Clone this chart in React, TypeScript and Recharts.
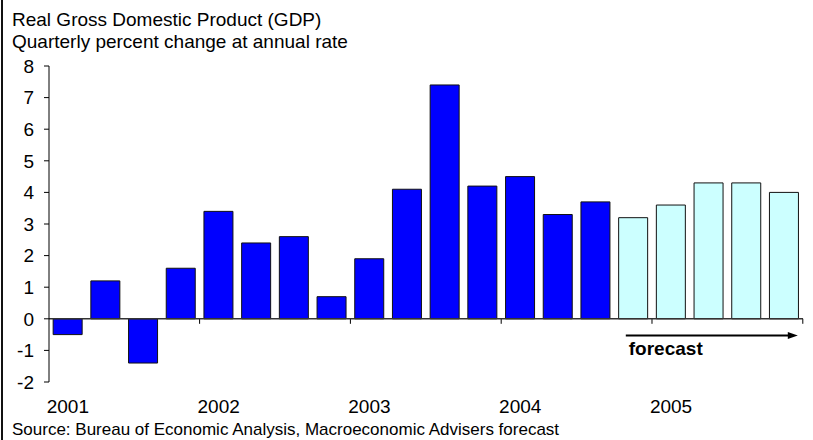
import React from 'react';
import { BarChart, Bar, Cell, XAxis, YAxis, ReferenceLine, Rectangle } from 'recharts';

const quarters = [
  '2001 Q1', '2001 Q2', '2001 Q3', '2001 Q4',
  '2002 Q1', '2002 Q2', '2002 Q3', '2002 Q4',
  '2003 Q1', '2003 Q2', '2003 Q3', '2003 Q4',
  '2004 Q1', '2004 Q2', '2004 Q3', '2004 Q4',
  '2005 Q1', '2005 Q2', '2005 Q3', '2005 Q4',
];
// published quarters, then the forecast quarters
const actual = [-0.5, 1.2, -1.4, 1.6, 3.4, 2.4, 2.6, 0.7, 1.9, 4.1, 7.4, 4.2, 4.5, 3.3, 3.7];
const forecast = [3.2, 3.6, 4.3, 4.3, 4.0];
const yTicks = [-2, -1, 0, 1, 2, 3, 4, 5, 6, 7, 8];
const arrowLevel = -0.53;

const data = quarters.map((q, i) =>
  i < actual.length
    ? { q, gdp: actual[i], fc: false }
    : { q, gdp: forecast[i - actual.length], fc: true }
);

const FONT = '"Liberation Sans", Arial, sans-serif';
const W = 813;
const H = 440;
const MARGIN = { top: 66, right: 10, bottom: 28, left: 0 };
const Y_AXIS_W = 49;
const BAND = (W - MARGIN.right - MARGIN.left - Y_AXIS_W) / quarters.length;

// bar plus the year ticks on the zero line and the forecast arrow
const GdpBar = (props: any) => {
  const { x, y, width, height, index } = props;
  const value = data[index].gdp;
  const zero = Math.max(y, y + height);
  const pxPerUnit = Math.abs(height) / Math.abs(value);
  const bandStart = x + width / 2 - BAND / 2;
  const q = quarters[index];
  const extras: React.ReactNode[] = [];

  if (index > 0 && q.endsWith('Q1')) {
    extras.push(<line key="t" x1={bandStart} y1={zero} x2={bandStart} y2={zero + 5} stroke="#000" />);
  }
  if (index === quarters.length - 1) {
    const end = bandStart + BAND;
    extras.push(<line key="e" x1={end} y1={zero} x2={end} y2={zero + 5} stroke="#000" />);
  }
  if (index === actual.length) {
    const ay = zero - arrowLevel * pxPerUnit;
    const start = bandStart + 11.5;
    const tip = bandStart + forecast.length * BAND - 5;
    extras.push(
      <g key="a">
        <line x1={start} y1={ay} x2={tip - 8} y2={ay} stroke="#000" strokeWidth={2} />
        <polygon points={`${tip},${ay} ${tip - 10},${ay - 3.5} ${tip - 10},${ay + 3.5}`} fill="#000" />
        <text x={start + 3} y={ay + 19.5} fontSize={19} fontWeight="bold" fontFamily={FONT} fill="#000">
          forecast
        </text>
      </g>
    );
  }

  return (
    <g>
      <Rectangle x={x} y={y} width={width} height={height} fill={props.fill} stroke="#111" strokeWidth={1} />
      {extras}
    </g>
  );
};

export default function App() {
  return (
    <div style={{ position: 'absolute', left: 0, top: 0, width: W, height: H, background: '#fff', fontFamily: FONT }}>
      <div style={{ position: 'absolute', left: 1, top: 0, width: 2, height: H, background: '#111' }} />
      <svg width={W} height={H} style={{ position: 'absolute', left: 0, top: 0 }}>
        <text x={12} y={26} fontSize={19} fontFamily={FONT} fill="#000">Real Gross Domestic Product (GDP)</text>
        <text x={12} y={48} fontSize={19} fontFamily={FONT} fill="#000">Quarterly percent change at annual rate</text>
        <text x={12} y={435} fontSize={17} fontFamily={FONT} fill="#000">
          Source: Bureau of Economic Analysis, Macroeconomic Advisers forecast
        </text>
      </svg>
      <div style={{ position: 'absolute', left: 0, top: 0 }}>
        <BarChart width={W} height={H} data={data} margin={MARGIN} barCategoryGap="11%">
          <XAxis
            dataKey="q"
            interval={0}
            axisLine={false}
            tickLine={false}
            height={30}
            tickMargin={12}
            tick={{ fill: '#000', fontSize: 19, fontFamily: FONT }}
            tickFormatter={(v: string) => (v.endsWith('Q1') ? v.slice(0, 4) : '')}
          />
          <YAxis
            width={Y_AXIS_W}
            domain={[-2, 8]}
            ticks={yTicks}
            interval={0}
            tickSize={5}
            tickMargin={10}
            axisLine={{ stroke: '#000' }}
            tickLine={{ stroke: '#000' }}
            tick={{ fill: '#000', fontSize: 19, fontFamily: FONT }}
          />
          <ReferenceLine y={0} stroke="#333" strokeWidth={1.5} />
          <Bar dataKey="gdp" shape={GdpBar} isAnimationActive={false}>
            {data.map((d) => (
              <Cell key={d.q} fill={d.fc ? '#ccffff' : '#0000ff'} />
            ))}
          </Bar>
        </BarChart>
      </div>
    </div>
  );
}
